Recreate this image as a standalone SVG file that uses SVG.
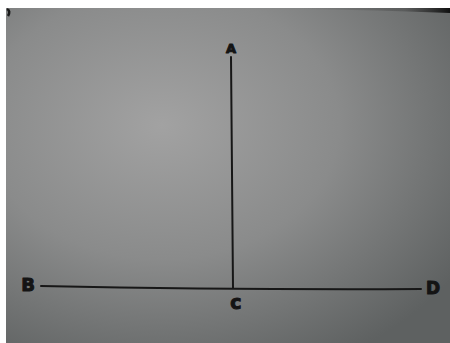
<svg xmlns="http://www.w3.org/2000/svg" width="450" height="343" viewBox="0 0 450 343">
  <style>
    .lbl { font-family: "DejaVu Sans", "Liberation Sans", sans-serif; font-weight: bold; fill: #141414; stroke: #141414; stroke-width: 1; stroke-linejoin: round; text-anchor: middle; }
    .edge { stroke: #171717; stroke-width: 2; fill: none; stroke-linecap: round; }
  </style>
  <defs>
    <radialGradient id="paper" cx="0.35" cy="0.35" r="0.8">
      <stop offset="0" stop-color="#a2a2a2"/>
      <stop offset="0.5" stop-color="#8a8b8b"/>
      <stop offset="1" stop-color="#5e6161"/>
    </radialGradient>
    <linearGradient id="topband" x1="0" y1="0" x2="1" y2="0">
      <stop offset="0" stop-color="#2a2a2a" stop-opacity="0"/>
      <stop offset="0.7" stop-color="#2a2a2a" stop-opacity="0.3"/>
      <stop offset="1" stop-color="#111" stop-opacity="1"/>
    </linearGradient>
  </defs>
  <rect width="450" height="343" fill="#ffffff"/>
  <rect x="6" y="8" width="444" height="335" fill="url(#paper)"/>
  <path d="M300 8 L450 8 L450 13 Q380 10 300 9 Z" fill="url(#topband)"/>
  <path d="M7 9 Q11 11 8 16" stroke="#1a1a1a" stroke-width="2.5" fill="none"/>
  <g id="connectors">
    <line class="edge" x1="231" y1="57" x2="233" y2="288"/>
    <path class="edge" d="M41 286 Q240 290 421 289"/>
  </g>
  <g id="node-A"><text class="lbl" x="231" y="53" font-size="13">A</text></g>
  <g id="node-B"><text class="lbl" x="28" y="291" font-size="18">B</text></g>
  <g id="node-C"><text class="lbl" x="236" y="309" font-size="19">c</text></g>
  <g id="node-D"><text class="lbl" x="433" y="294" font-size="17">D</text></g>
</svg>
